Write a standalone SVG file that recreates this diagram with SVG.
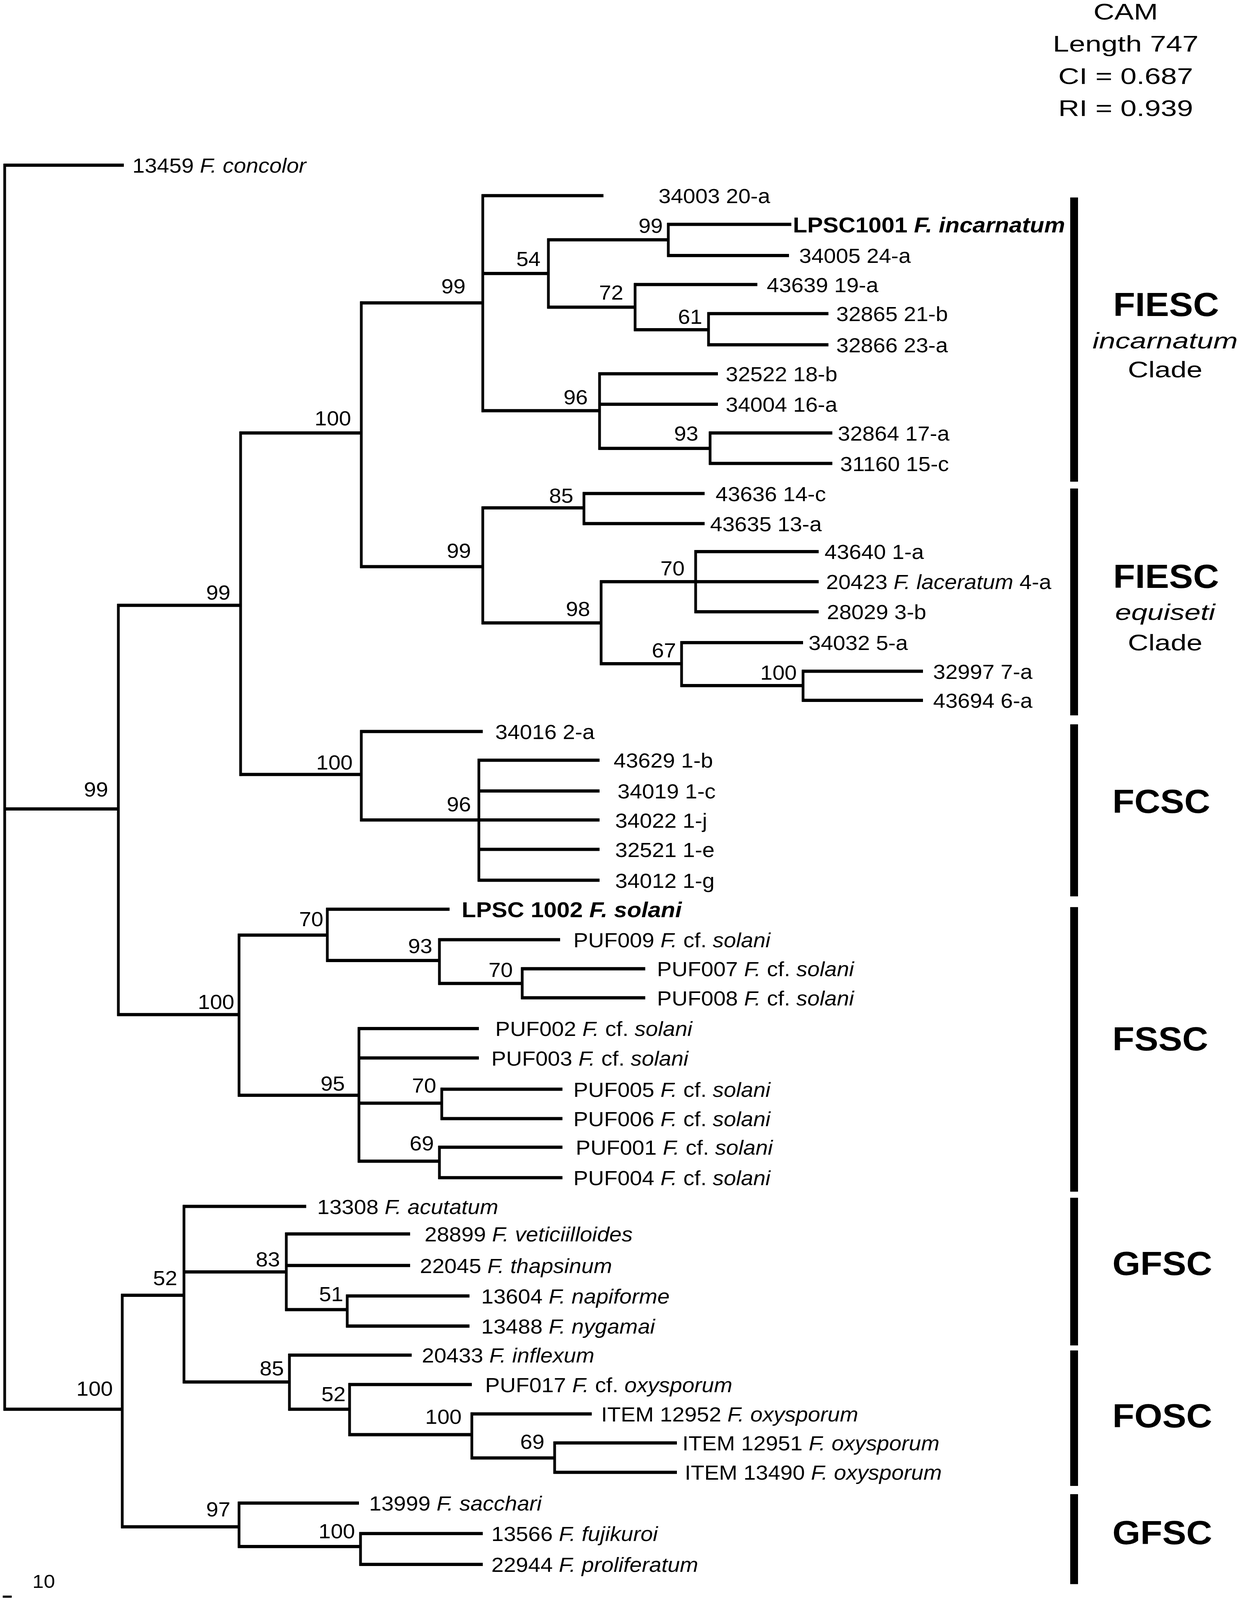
<svg xmlns="http://www.w3.org/2000/svg" width="3167" height="4463" viewBox="0 0 3167 4463">
<style>
text{font-family:"Liberation Sans",Arial,sans-serif;fill:#000}
.lf{font-size:56.5px}
.bs{font-size:56px;text-anchor:end}
.b{font-weight:bold;font-size:60px}
.i{font-style:italic}
.big{font-size:92px;font-weight:bold}
.sub{font-size:62px;text-anchor:middle}
.h{fill:none;stroke:#000;stroke-width:9}
.v{fill:none;stroke:#000;stroke-width:7}
.bar{fill:#000}
</style>
<rect width="3167" height="4463" fill="#fff"/>
<g id="diagram" transform="scale(1 0.9175)">
<g id="header">
<text class="sub" x="2882" y="55" textLength="165" lengthAdjust="spacingAndGlyphs">CAM</text>
<text class="sub" x="2882" y="144" textLength="373" lengthAdjust="spacingAndGlyphs">Length 747</text>
<text class="sub" x="2882" y="234" textLength="345" lengthAdjust="spacingAndGlyphs">CI = 0.687</text>
<text class="sub" x="2882" y="324" textLength="345" lengthAdjust="spacingAndGlyphs">RI = 0.939</text>
</g>
<g id="connectors">
<path class="h" d="M9,461H317M9,2257H303M9,3932H313M300,1689H616M300,2831H612M613,1208H925M613,2161H925M922,845H1236M922,1581H1236M1233,546H1545M1233,763H1404M1233,1146H1535M1401,669H1711M1401,857H1626M1708,626H2026M1708,713H2020M1623,794H1939M1623,920H1814M1811,875H2121M1811,962H2121M1532,1043H1838M1532,1128H1838M1532,1251H1818M1815,1208H2131M1815,1293H2131M1233,1417H1495M1233,1738H1539M1492,1377H1804M1492,1461H1804M1536,1623H2096M1536,1852H1745M1778,1539H2096M1778,1707H2096M1742,1793H2056M1742,1913H2056M2053,1873H2363M2053,1954H2363M922,2041H1236M922,2288H1535M1223,2121H1535M1223,2207H1535M1223,2370H1535M1223,2456H1535M609,2609H838M609,3056H919M835,2537H1151M835,2680H1125M1122,2622H1434M1122,2744H1337M1334,2703H1652M1334,2784H1652M916,2870H1226M916,2952H1226M916,3078H1131M916,3240H1125M1128,3039H1440M1128,3121H1440M1122,3201H1440M1122,3286H1440M310,3614H471M310,4260H612M468,3366H784M468,3549H733M468,3856H741M730,3443H1050M730,3531H1050M730,3654H889M886,3616H1202M886,3700H1202M738,3781H1054M738,3932H895M892,3863H1208M892,4003H1208M1205,3945H1515M1205,4068H1420M1417,4026H1733M1417,4108H1733M609,4194H919M609,4315H923M920,4279H1236M920,4365H1236"/>
<path class="v" d="M12,457V3936M303,1685V2835M616,1204V2165M925,841V1585M1236,542V1150M1404,665V861M1711,622V717M1626,790V924M1814,871V966M1535,1039V1255M1818,1204V1297M1236,1413V1742M1495,1373V1465M1539,1619V1856M1781,1535V1711M1745,1789V1917M2056,1869V1958M925,2037V2292M1226,2117V2460M612,2605V3060M838,2533V2684M1125,2618V2748M1337,2699V2788M919,2866V3244M1131,3035V3125M1125,3197V3290M313,3610V4264M471,3362V3860M733,3439V3658M889,3612V3704M741,3777V3936M895,3859V4007M1208,3941V4072M1420,4022V4112M612,4190V4319M923,4275V4369"/>
<path class="h" d="M7,4455H30" style="stroke-width:6"/>
</g>
<g id="leaves">
<g id="n13459"><text class="lf" x="339" y="482">13459 <tspan class="i">F. concolor</tspan></text></g>
<g id="n34003"><text class="lf" x="1686" y="567">34003 20-a</text></g>
<g id="nLPSC1001"><text class="lf b" x="2030" y="648">LPSC1001 <tspan class="i">F. incarnatum</tspan></text></g>
<g id="n34005"><text class="lf" x="2046" y="734">34005 24-a</text></g>
<g id="n43639"><text class="lf" x="1963" y="815">43639 19-a</text></g>
<g id="n32865"><text class="lf" x="2141" y="896">32865 21-b</text></g>
<g id="n32866"><text class="lf" x="2141" y="983">32866 23-a</text></g>
<g id="n32522"><text class="lf" x="1858" y="1064">32522 18-b</text></g>
<g id="n34004"><text class="lf" x="1858" y="1149">34004 16-a</text></g>
<g id="n32864"><text class="lf" x="2145" y="1229">32864 17-a</text></g>
<g id="n31160"><text class="lf" x="2151" y="1314">31160 15-c</text></g>
<g id="n43636"><text class="lf" x="1832" y="1398">43636 14-c</text></g>
<g id="n43635"><text class="lf" x="1818" y="1482">43635 13-a</text></g>
<g id="n43640"><text class="lf" x="2111" y="1560">43640 1-a</text></g>
<g id="n20423"><text class="lf" x="2115" y="1644">20423 <tspan class="i">F. laceratum</tspan> 4-a</text></g>
<g id="n28029"><text class="lf" x="2117" y="1728">28029 3-b</text></g>
<g id="n34032"><text class="lf" x="2070" y="1814">34032 5-a</text></g>
<g id="n32997"><text class="lf" x="2389" y="1894">32997 7-a</text></g>
<g id="n43694"><text class="lf" x="2389" y="1975">43694 6-a</text></g>
<g id="n34016"><text class="lf" x="1268" y="2062">34016 2-a</text></g>
<g id="n43629"><text class="lf" x="1571" y="2142">43629 1-b</text></g>
<g id="n34019"><text class="lf" x="1581" y="2228">34019 1-c</text></g>
<g id="n34022"><text class="lf" x="1575" y="2309">34022 1-j</text></g>
<g id="n32521"><text class="lf" x="1575" y="2391">32521 1-e</text></g>
<g id="n34012"><text class="lf" x="1575" y="2477">34012 1-g</text></g>
<g id="nLPSC1002"><text class="lf b" x="1182" y="2559">LPSC 1002 <tspan class="i">F. solani</tspan></text></g>
<g id="nPUF009"><text class="lf" x="1468" y="2643">PUF009 <tspan class="i">F.</tspan> cf. <tspan class="i">solani</tspan></text></g>
<g id="nPUF007"><text class="lf" x="1682" y="2724">PUF007 <tspan class="i">F.</tspan> cf. <tspan class="i">solani</tspan></text></g>
<g id="nPUF008"><text class="lf" x="1682" y="2805">PUF008 <tspan class="i">F.</tspan> cf. <tspan class="i">solani</tspan></text></g>
<g id="nPUF002"><text class="lf" x="1268" y="2891">PUF002 <tspan class="i">F.</tspan> cf. <tspan class="i">solani</tspan></text></g>
<g id="nPUF003"><text class="lf" x="1258" y="2973">PUF003 <tspan class="i">F.</tspan> cf. <tspan class="i">solani</tspan></text></g>
<g id="nPUF005"><text class="lf" x="1468" y="3060">PUF005 <tspan class="i">F.</tspan> cf. <tspan class="i">solani</tspan></text></g>
<g id="nPUF006"><text class="lf" x="1468" y="3142">PUF006 <tspan class="i">F.</tspan> cf. <tspan class="i">solani</tspan></text></g>
<g id="nPUF001"><text class="lf" x="1474" y="3222">PUF001 <tspan class="i">F.</tspan> cf. <tspan class="i">solani</tspan></text></g>
<g id="nPUF004"><text class="lf" x="1468" y="3307">PUF004 <tspan class="i">F.</tspan> cf. <tspan class="i">solani</tspan></text></g>
<g id="n13308"><text class="lf" x="812" y="3387">13308 <tspan class="i">F. acutatum</tspan></text></g>
<g id="n28899"><text class="lf" x="1087" y="3464">28899 <tspan class="i">F. veticiilloides</tspan></text></g>
<g id="n22045"><text class="lf" x="1075" y="3552">22045 <tspan class="i">F. thapsinum</tspan></text></g>
<g id="n13604"><text class="lf" x="1232" y="3637">13604 <tspan class="i">F. napiforme</tspan></text></g>
<g id="n13488"><text class="lf" x="1232" y="3721">13488 <tspan class="i">F. nygamai</tspan></text></g>
<g id="n20433"><text class="lf" x="1080" y="3802">20433 <tspan class="i">F. inflexum</tspan></text></g>
<g id="nPUF017"><text class="lf" x="1242" y="3884">PUF017 <tspan class="i">F.</tspan> cf. <tspan class="i">oxysporum</tspan></text></g>
<g id="nITEM12952"><text class="lf" x="1539" y="3966">ITEM 12952 <tspan class="i">F. oxysporum</tspan></text></g>
<g id="nITEM12951"><text class="lf" x="1747" y="4047">ITEM 12951 <tspan class="i">F. oxysporum</tspan></text></g>
<g id="nITEM13490"><text class="lf" x="1753" y="4129">ITEM 13490 <tspan class="i">F. oxysporum</tspan></text></g>
<g id="n13999"><text class="lf" x="945" y="4215">13999 <tspan class="i">F. sacchari</tspan></text></g>
<g id="n13566"><text class="lf" x="1258" y="4300">13566 <tspan class="i">F. fujikuroi</tspan></text></g>
<g id="n22944"><text class="lf" x="1258" y="4386">22944 <tspan class="i">F. proliferatum</tspan></text></g>
</g>
<g id="support">
<text class="bs" x="1697" y="650">99</text>
<text class="bs" x="1384" y="742">54</text>
<text class="bs" x="1192" y="819">99</text>
<text class="bs" x="1596" y="836">72</text>
<text class="bs" x="1798" y="904">61</text>
<text class="bs" x="1505" y="1128">96</text>
<text class="bs" x="1788" y="1229">93</text>
<text class="bs" x="899" y="1187">100</text>
<text class="bs" x="1468" y="1403">85</text>
<text class="bs" x="1206" y="1556">99</text>
<text class="bs" x="1753" y="1605">70</text>
<text class="bs" x="1511" y="1719">98</text>
<text class="bs" x="1731" y="1834">67</text>
<text class="bs" x="2040" y="1896">100</text>
<text class="bs" x="590" y="1673">99</text>
<text class="bs" x="903" y="2147">100</text>
<text class="bs" x="1206" y="2264">96</text>
<text class="bs" x="277" y="2222">99</text>
<text class="bs" x="828" y="2584">70</text>
<text class="bs" x="1107" y="2659">93</text>
<text class="bs" x="1313" y="2726">70</text>
<text class="bs" x="600" y="2815">100</text>
<text class="bs" x="883" y="3043">95</text>
<text class="bs" x="1117" y="3049">70</text>
<text class="bs" x="1111" y="3210">69</text>
<text class="bs" x="454" y="3586">52</text>
<text class="bs" x="717" y="3533">83</text>
<text class="bs" x="879" y="3631">51</text>
<text class="bs" x="727" y="3838">85</text>
<text class="bs" x="885" y="3910">52</text>
<text class="bs" x="1182" y="3973">100</text>
<text class="bs" x="1394" y="4042">69</text>
<text class="bs" x="289" y="3894">100</text>
<text class="bs" x="590" y="4231">97</text>
<text class="bs" x="909" y="4292">100</text>
</g>
<g id="clades">
<g id="c-fiesc-inc"><rect class="bar" x="2740" y="551" width="20" height="793"/><text class="big" x="2850" y="882">FIESC</text><text class="sub i" x="2983" y="972" textLength="372" lengthAdjust="spacingAndGlyphs">incarnatum</text><text class="sub" x="2983" y="1053" textLength="191" lengthAdjust="spacingAndGlyphs">Clade</text></g>
<g id="c-fiesc-equ"><rect class="bar" x="2740" y="1363" width="20" height="633"/><text class="big" x="2850" y="1640">FIESC</text><text class="sub i" x="2983" y="1730" textLength="256" lengthAdjust="spacingAndGlyphs">equiseti</text><text class="sub" x="2983" y="1815" textLength="191" lengthAdjust="spacingAndGlyphs">Clade</text></g>
<g id="c-fcsc"><rect class="bar" x="2740" y="2021" width="20" height="480"/><text class="big" x="2848" y="2268">FCSC</text></g>
<g id="c-fssc"><rect class="bar" x="2740" y="2531" width="20" height="794"/><text class="big" x="2848" y="2931">FSSC</text></g>
<g id="c-gfsc1"><rect class="bar" x="2740" y="3342" width="20" height="412"/><text class="big" x="2848" y="3558">GFSC</text></g>
<g id="c-fosc"><rect class="bar" x="2740" y="3768" width="20" height="378"/><text class="big" x="2848" y="3983">FOSC</text></g>
<g id="c-gfsc2"><rect class="bar" x="2740" y="4169" width="20" height="251"/><text class="big" x="2848" y="4308">GFSC</text></g>
</g>
<g id="scale"><text class="lf" x="83" y="4430" style="font-size:52px">10</text></g>
</g>
</svg>
